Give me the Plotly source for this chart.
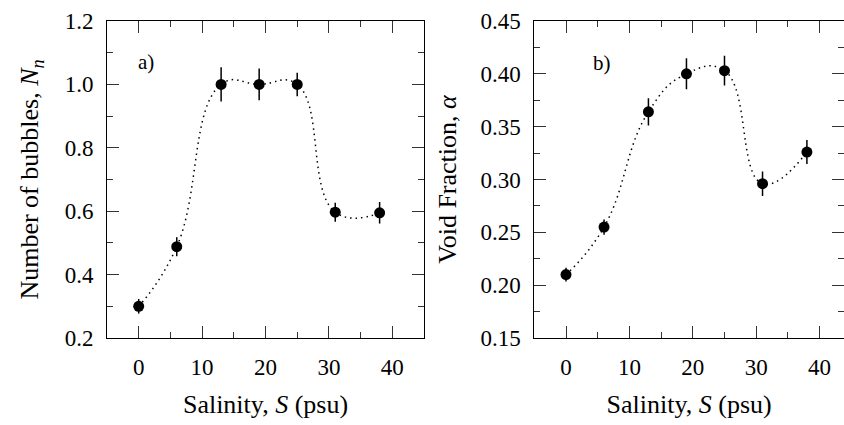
import plotly.graph_objects as go

# ---- data ----
salinity = [0, 6, 13, 19, 25, 31, 38]
bubbles = [0.30, 0.488, 1.00, 1.00, 1.00, 0.597, 0.595]
bubbles_err = [0.023, 0.030, 0.054, 0.050, 0.037, 0.030, 0.034]
void_frac = [0.210, 0.255, 0.364, 0.400, 0.403, 0.296, 0.326]
void_err = [0.0066, 0.0072, 0.0128, 0.0147, 0.0140, 0.0115, 0.0113]

x_ticks = [0, 10, 20, 30, 40]
y1_ticks = [0.2, 0.4, 0.6, 0.8, 1.0, 1.2]
y2_ticks = [0.15, 0.20, 0.25, 0.30, 0.35, 0.40, 0.45]

FONT = "Liberation Serif, Times New Roman, Times, serif"
TICK_FONT = dict(family=FONT, size=23, color="black")
TITLE_FONT = dict(family=FONT, size=26, color="black")

fig = go.Figure()

for xa, ya, y, err in [("x", "y", bubbles, bubbles_err), ("x2", "y2", void_frac, void_err)]:
    fig.add_trace(go.Scatter(
        x=salinity, y=y, xaxis=xa, yaxis=ya, mode="lines",
        line=dict(color="black", width=1.5, dash="1.5px,4px", shape="spline", smoothing=1.3),
        hoverinfo="skip", showlegend=False))
    fig.add_trace(go.Scatter(
        x=salinity, y=y, xaxis=xa, yaxis=ya, mode="markers",
        marker=dict(color="black", size=11),
        error_y=dict(type="data", array=err, color="black", thickness=1.5, width=0),
        showlegend=False))

common_axis = dict(
    showline=True, linecolor="black", linewidth=1, mirror="ticks",
    ticks="inside", ticklen=12, tickwidth=1.2, tickcolor="#333",
    showgrid=False, zeroline=False, tickfont=TICK_FONT, automargin=False,
)
minor_x = dict(dtick=5, tick0=0, ticklen=6, ticks="inside", tickcolor="#333", tickwidth=1.2)

x_left = [107 / 844, 424 / 844]
x_right = [534.3 / 844, 1.0]
y_dom = [1 - 338 / 425, 1 - 21 / 425]

fig.update_layout(
    width=844, height=425,
    margin=dict(l=0, r=0, t=0, b=0, autoexpand=False),
    paper_bgcolor="white", plot_bgcolor="white",
    font=dict(family=FONT, color="black"),
    xaxis=dict(common_axis, domain=x_left, range=[-5, 45], tickvals=x_ticks,
               minor=minor_x, ticklabelstandoff=8,
               title=dict(text="Salinity, <i>S</i> (psu)", font=TITLE_FONT, standoff=16),
               anchor="y"),
    yaxis=dict(common_axis, domain=y_dom, range=[0.2, 1.2], tickvals=y1_ticks, tickformat=".1f",
               minor=dict(dtick=0.1, tick0=0.2, ticklen=6, ticks="inside", tickcolor="#333", tickwidth=1.2),
               ticklabelstandoff=8,
               title=dict(text="Number of bubbles, <i>N</i><sub><i>n</i></sub>", font=TITLE_FONT, standoff=18),
               anchor="x"),
    xaxis2=dict(common_axis, domain=x_right, range=[-5, 43.85], tickvals=x_ticks,
                minor=minor_x, ticklabelstandoff=8,
                title=dict(text="Salinity, <i>S</i> (psu)", font=TITLE_FONT, standoff=16),
                anchor="y2"),
    yaxis2=dict(common_axis, domain=y_dom, range=[0.15, 0.45], tickvals=y2_ticks, tickformat=".2f",
                minor=dict(dtick=0.025, tick0=0.15, ticklen=6, ticks="inside", tickcolor="#333", tickwidth=1.2),
                ticklabelstandoff=8,
                title=dict(text="Void Fraction, <i>α</i>", font=TITLE_FONT, standoff=16),
                anchor="x2"),
    annotations=[
        dict(text="a)", x=1.2, y=1.072, xref="x", yref="y", showarrow=False,
             font=dict(family=FONT, size=21, color="black")),
        dict(text="b)", x=5.6, y=0.410, xref="x2", yref="y2", showarrow=False,
             font=dict(family=FONT, size=21, color="black")),
    ],
)

fig.write_html("out.html", config={"displayModeBar": False},
               post_script="document.body.style.margin='0px';")
